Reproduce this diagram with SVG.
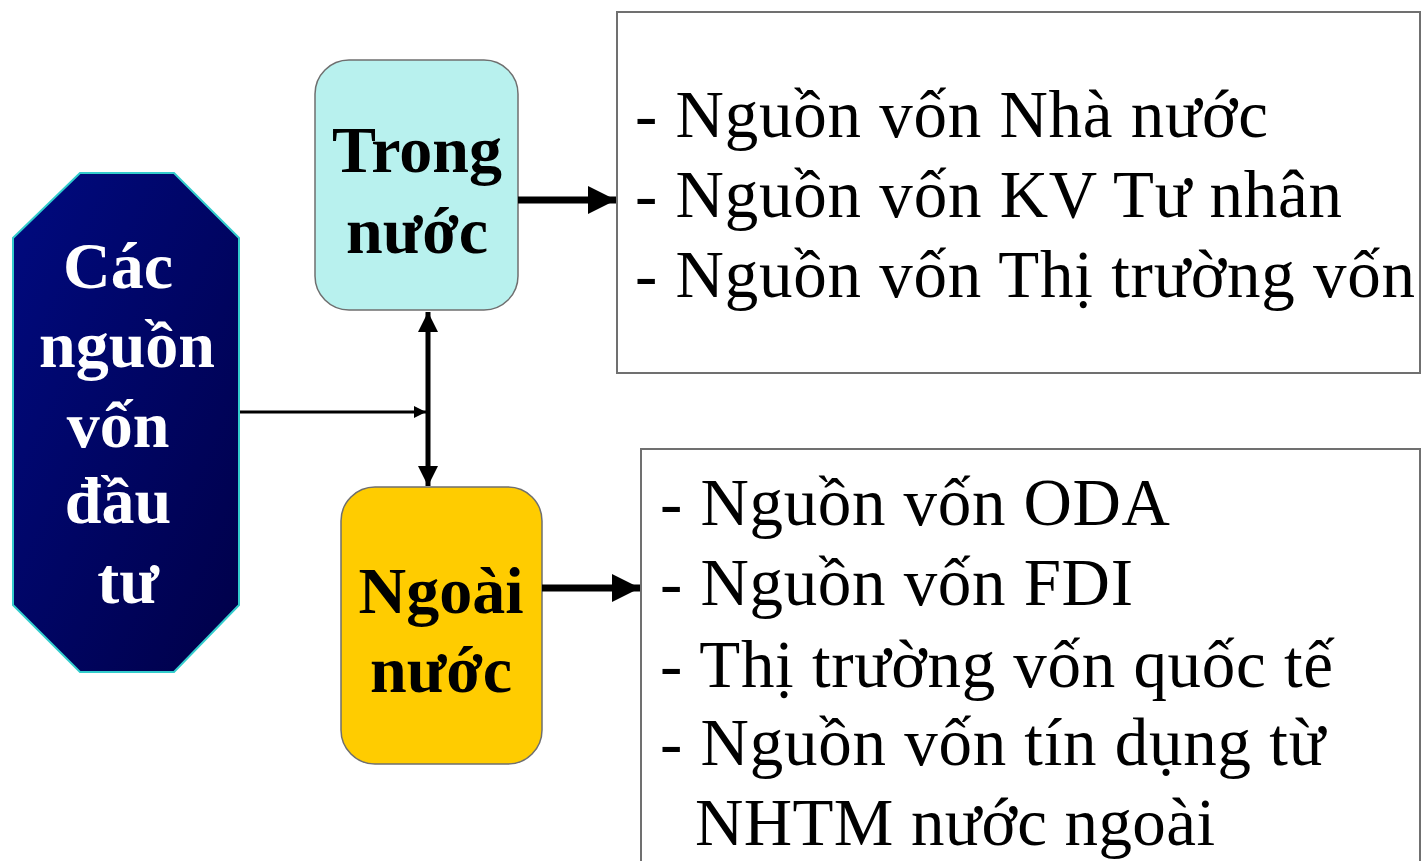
<svg xmlns="http://www.w3.org/2000/svg" width="1422" height="861" viewBox="0 0 1422 861">
  <style>
    .bold { font-family: "Liberation Serif", "Times New Roman", serif; font-weight: bold; font-size: 66px; text-anchor: middle; }
    .white { fill: #ffffff; }
    .dark { fill: #000000; }
    .item { font-family: "Liberation Serif", "Times New Roman", serif; font-size: 67px; fill: #000000; }
    .list { fill: #ffffff; stroke: #707070; stroke-width: 2; }
    .thick { stroke: #000000; stroke-width: 7; fill: none; }
    .mid { stroke: #000000; stroke-width: 5; fill: none; }
    .thin { stroke: #000000; stroke-width: 3; fill: none; }
  </style>
  <defs>
    <linearGradient id="navy" x1="0" y1="0" x2="1" y2="1">
      <stop offset="0" stop-color="#000a80"/>
      <stop offset="1" stop-color="#000048"/>
    </linearGradient>
    <marker id="headBig" markerWidth="4" markerHeight="4" refX="4" refY="2" orient="auto" markerUnits="strokeWidth">
      <path d="M0,0 L4,2 L0,4 Z" fill="#000000"/>
    </marker>
    <marker id="headMid" markerWidth="4" markerHeight="4" refX="4" refY="2" orient="auto-start-reverse" markerUnits="strokeWidth">
      <path d="M0,0 L4,2 L0,4 Z" fill="#000000"/>
    </marker>
    <marker id="headSmall" markerWidth="4" markerHeight="4" refX="4" refY="2" orient="auto" markerUnits="strokeWidth">
      <path d="M0,0 L4,2 L0,4 Z" fill="#000000"/>
    </marker>
  </defs>

  <rect width="1422" height="861" fill="#ffffff"/>

  <!-- root node: octagon -->
  <g id="sources">
    <polygon points="80,173 174,173 239,238 239,605 174,672 80,672 13,605 13,238" fill="url(#navy)" stroke="#33cccc" stroke-width="2"/>
    <text class="bold white" x="118" y="288">Các</text>
    <text class="bold white" x="127" y="367">nguồn</text>
    <text class="bold white" x="118" y="447">vốn</text>
    <text class="bold white" x="118" y="523">đầu</text>
    <text class="bold white" x="128" y="603">tư</text>
  </g>

  <!-- domestic -->
  <g id="domestic">
    <rect x="315" y="60" width="203" height="250" rx="34" ry="34" fill="#b8f1ee" stroke="#6f6f6f" stroke-width="1.5"/>
    <text class="bold dark" x="417" y="172">Trong</text>
    <text class="bold dark" x="417" y="253">nước</text>
  </g>

  <!-- foreign -->
  <g id="foreign">
    <rect x="341" y="487" width="201" height="277" rx="34" ry="34" fill="#ffcc00" stroke="#6f6f6f" stroke-width="1.5"/>
    <text class="bold dark" x="441" y="613">Ngoài</text>
    <text class="bold dark" x="441" y="692">nước</text>
  </g>

  <!-- domestic list -->
  <g id="domestic-list">
    <rect class="list" x="617" y="12" width="803" height="361"/>
    <text class="item" x="635" y="137" textLength="633" lengthAdjust="spacing">- Nguồn vốn Nhà nước</text>
    <text class="item" x="635" y="217" textLength="707" lengthAdjust="spacing">- Nguồn vốn KV Tư nhân</text>
    <text class="item" x="635" y="297" textLength="780" lengthAdjust="spacing">- Nguồn vốn Thị trường vốn</text>
  </g>

  <!-- foreign list -->
  <g id="foreign-list">
    <rect class="list" x="641" y="449" width="779" height="430"/>
    <text class="item" x="660" y="525" textLength="510" lengthAdjust="spacing">- Nguồn vốn ODA</text>
    <text class="item" x="660" y="605" textLength="473" lengthAdjust="spacing">- Nguồn vốn FDI</text>
    <text class="item" x="660" y="687" textLength="673" lengthAdjust="spacing">- Thị trường vốn quốc tế</text>
    <text class="item" x="660" y="765" textLength="665" lengthAdjust="spacing">- Nguồn vốn tín dụng từ</text>
    <text class="item" x="695" y="845" textLength="520" lengthAdjust="spacing">NHTM nước ngoài</text>
  </g>

  <!-- connectors -->
  <g id="connectors">
    <line class="thin" x1="240" y1="412" x2="426" y2="412" marker-end="url(#headSmall)"/>
    <line class="mid" x1="428" y1="312" x2="428" y2="486" marker-start="url(#headMid)" marker-end="url(#headMid)"/>
    <line class="thick" x1="518" y1="200" x2="616" y2="200" marker-end="url(#headBig)"/>
    <line class="thick" x1="542" y1="588" x2="640" y2="588" marker-end="url(#headBig)"/>
  </g>
</svg>
